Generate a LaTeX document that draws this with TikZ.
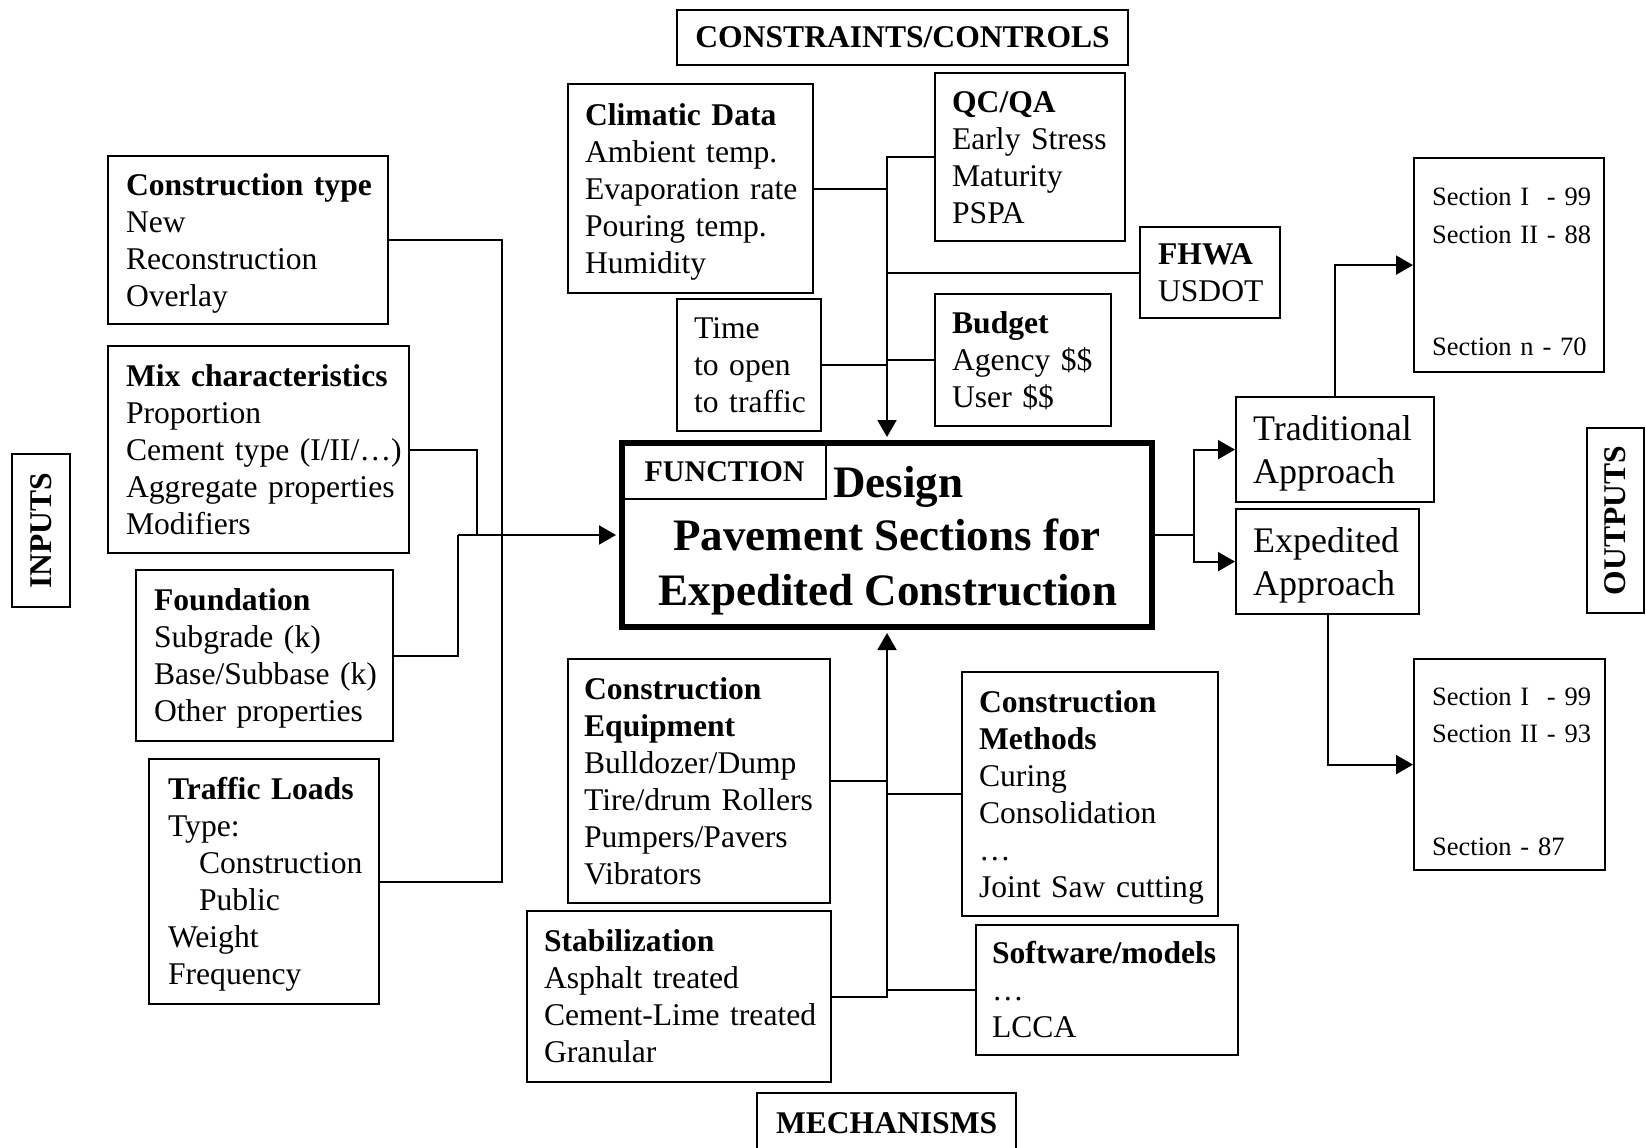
\documentclass[tikz,border=0pt]{standalone}
\usepackage{fontspec}
\setmainfont{Liberation Serif}
\usetikzlibrary{arrows.meta}

% line struts: body text, approach boxes, section lists
\newcommand\sr{\rule[-8pt]{0pt}{37pt}}
\newcommand\li[1]{\sr\mbox{#1}}
\newcommand\srA{\rule[-9pt]{0pt}{43pt}}
\newcommand\lA[1]{\srA\mbox{#1}}
\newcommand\srS{\rule[-3pt]{0pt}{37.5pt}}
\newcommand\lS[1]{\srS\mbox{#1}}
\newcommand\bodyfont{\fontsize{31.6pt}{37pt}\selectfont}
\newcommand\apfont{\fontsize{36pt}{43pt}\selectfont}
\newcommand\secfont{\fontsize{26.5pt}{37.5pt}\selectfont}
\newcommand\bigfont{\fontsize{45pt}{54pt}\selectfont\bfseries}

\tikzset{
  box/.style={draw, line width=2.2pt, anchor=north west, align=left,
              inner ysep=0pt, font=\bodyfont},
  tag/.style={draw, line width=2.2pt, inner sep=0pt, font=\bodyfont\bfseries},
  wire/.style={line width=2pt},
  arr/.style={wire, -{Triangle[length=17pt,width=19pt]}},
}

\begin{document}
\begin{tikzpicture}[x=1pt, y=-1pt]
\fill[white] (0,0) rectangle (1646,1148);
\useasboundingbox (0,0) rectangle (1646,1148);

% ---- inputs ----
\node[box, text width=244pt, inner xsep=18pt, minimum height=168pt] (ctype) at (107,155)
  {\li{\textbf{Construction type}}\\\li{New}\\\li{Reconstruction}\\\li{Overlay}};
\node[box, text width=265pt, inner xsep=18pt, minimum height=207pt] (mix) at (107,345)
  {\li{\textbf{Mix characteristics}}\\\li{Proportion}\\\li{Cement type (I/II/…)}\\\li{Aggregate properties}\\\li{Modifiers}};
\node[box, text width=221pt, inner xsep=18pt, minimum height=171pt] (found) at (135,569)
  {\li{\textbf{Foundation}}\\\li{Subgrade (k)}\\\li{Base/Subbase (k)}\\\li{Other properties}};
\node[box, text width=192pt, inner xsep=19pt, minimum height=245pt] (traffic) at (148,758)
  {\li{\textbf{Traffic Loads}}\\\li{Type:}\\\li{\hspace*{31pt}Construction}\\\li{\hspace*{31pt}Public}\\\li{Weight}\\\li{Frequency}};
\node[tag, rotate=90, minimum width=153pt, minimum height=58pt] (inputs) at (41,530.5) {INPUTS};

% ---- constraints / controls ----
\node[tag, anchor=north west, minimum width=451pt, minimum height=55pt] (cons) at (676,9) {CONSTRAINTS/CONTROLS};
\node[box, text width=211pt, inner xsep=17pt, minimum height=209pt] (climatic) at (567,83)
  {\li{\textbf{Climatic Data}}\\\li{Ambient temp.}\\\li{Evaporation rate}\\\li{Pouring temp.}\\\li{Humidity}};
\node[box, text width=156pt, inner xsep=17pt, minimum height=168pt] (qcqa) at (934,72)
  {\li{\textbf{QC/QA}}\\\li{Early Stress}\\\li{Maturity}\\\li{PSPA}};
\node[box, text width=110pt, inner xsep=17pt, minimum height=132pt] (time) at (676,298)
  {\li{Time}\\\li{to open}\\\li{to traffic}};
\node[box, text width=142pt, inner xsep=17pt, minimum height=132pt] (budget) at (934,293)
  {\li{\textbf{Budget}}\\\li{Agency \$\$}\\\li{User \$\$}};
\node[box, text width=104pt, inner xsep=18pt, minimum height=91pt] (fhwa) at (1139,226)
  {\li{\textbf{FHWA}}\\\li{USDOT}};

% ---- function ----
\node[tag, anchor=north west, minimum width=203pt, minimum height=55pt,
      font=\fontsize{30pt}{36pt}\selectfont\bfseries] (ftab) at (622,443) {FUNCTION};
\node[draw, line width=6pt, minimum width=530pt, minimum height=184pt, inner sep=0pt] (func) at (887,535) {};
\node[anchor=base west, font=\bigfont, inner sep=0pt] (tdesign) at (833,497) {Design};
\node[anchor=base, font=\bigfont, inner sep=0pt] (tpave) at (887,550) {Pavement Sections for};
\node[anchor=base, font=\bigfont, inner sep=0pt] (texped) at (888,605) {Expedited Construction};

% ---- mechanisms ----
\node[box, text width=230pt, inner xsep=16pt, minimum height=244pt] (equip) at (567,658)
  {\li{\textbf{Construction}}\\\li{\textbf{Equipment}}\\\li{Bulldozer/Dump}\\\li{Tire/drum Rollers}\\\li{Pumpers/Pavers}\\\li{Vibrators}};
\node[box, text width=270pt, inner xsep=17pt, minimum height=171pt] (stab) at (526,910)
  {\li{\textbf{Stabilization}}\\\li{Asphalt treated}\\\li{Cement-Lime treated}\\\li{Granular}};
\node[box, text width=222pt, inner xsep=17pt, minimum height=244pt] (methods) at (961,671)
  {\li{\textbf{Construction}}\\\li{\textbf{Methods}}\\\li{Curing}\\\li{Consolidation}\\\li{…}\\\li{Joint Saw cutting}};
\node[box, text width=230pt, inner xsep=16pt, minimum height=130pt] (software) at (975,924)
  {\li{\textbf{Software/models}}\\\li{…}\\\li{LCCA}};
\node[tag, anchor=north west, minimum width=259pt, minimum height=60pt] (mech) at (756,1092) {MECHANISMS};

% ---- outputs ----
\node[box, font=\apfont, text width=164pt, inner xsep=17pt, minimum height=105pt] (trad) at (1235,396)
  {\lA{Traditional}\\\lA{Approach}};
\node[box, font=\apfont, text width=149pt, inner xsep=17pt, minimum height=105pt] (exped) at (1235,508)
  {\lA{Expedited}\\\lA{Approach}};
\node[box, font=\secfont, text width=154pt, inner xsep=18pt, minimum height=214pt] (sec1) at (1413,157)
  {\lS{Section I\ \ - 99}\\\lS{Section II - 88}\\\lS{}\\\lS{}\\\lS{Section n - 70}};
\node[box, font=\secfont, text width=155pt, inner xsep=18pt, minimum height=211pt] (sec2) at (1413,658)
  {\lS{Section I\ \ - 99}\\\lS{Section II - 93}\\\lS{}\\\lS{}\\\lS{Section - 87}};
\node[tag, rotate=90, minimum width=185pt, minimum height=57pt] (outputs) at (1615.5,520.5) {OUTPUTS};

% ---- input connectors ----
\coordinate (jin) at (458,535);
\coordinate (jmix) at (477,535);
\coordinate (vin) at (502,535);
\draw[wire] (ctype.east) -| (vin |- traffic.east) -- (traffic.east);
\draw[wire] (mix.east) -| (jmix);
\draw[wire] (found.east) -| (jin);
\draw[arr, shorten >=3pt] (jin) -- (func.west);

% ---- control connectors ----
\draw[arr, shorten >=3pt] (qcqa.west) -| (func.north);
\draw[wire] (climatic.east) -- (climatic.east -| func.north);
\draw[wire] (fhwa.west) -- (fhwa.west -| func.north);
\draw[wire] (time.east) -- (time.east -| func.north);
\draw[wire] (budget.west) -- (budget.west -| func.north);

% ---- mechanism connectors ----
\draw[arr, shorten >=3pt] (stab.east) -| (func.south);
\draw[wire] (equip.east) -- (equip.east -| func.south);
\draw[wire] (methods.west) -- (methods.west -| func.south);
\draw[wire] (software.west) -- (software.west -| func.south);

% ---- output connectors ----
\coordinate (jout) at (1194,535);
\draw[wire] (func.east) -- (jout);
\draw[arr] (jout) |- (trad.west);
\draw[arr] (jout) |- (exped.west);
\draw[arr] (trad.north) |- (sec1.west);
\draw[arr] (exped.south) |- (sec2.west);
\end{tikzpicture}
\end{document}
